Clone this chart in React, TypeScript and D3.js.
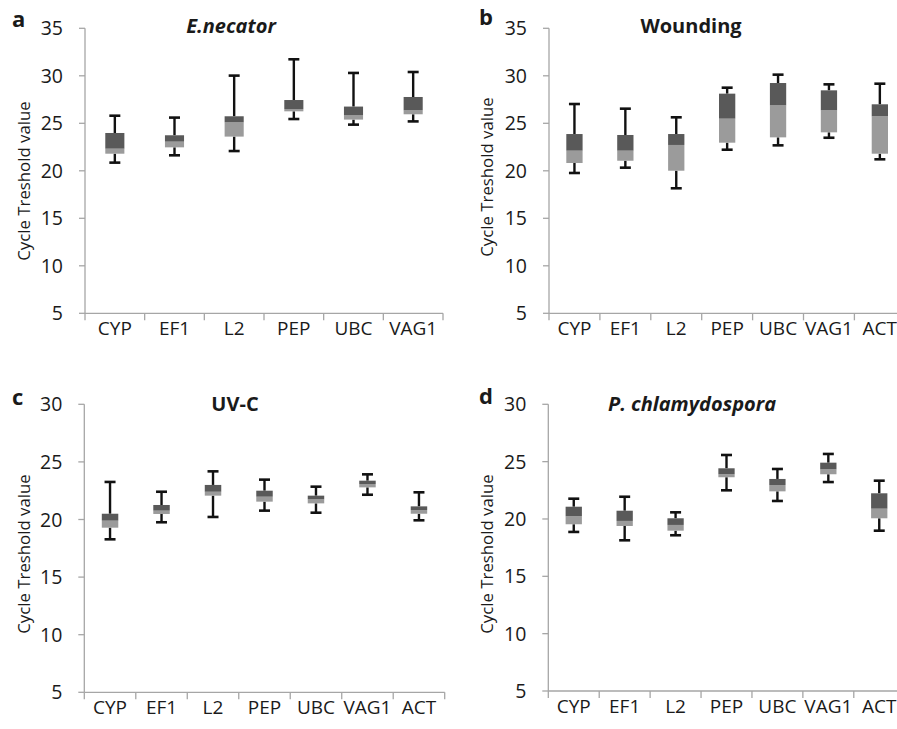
import React from 'react';
import * as d3 from 'd3';

// ---------- data ----------
const genes6 = ['CYP', 'EF1', 'L2', 'PEP', 'UBC', 'VAG1'];
const genes7 = ['CYP', 'EF1', 'L2', 'PEP', 'UBC', 'VAG1', 'ACT'];

const titleA = 'E.necator';
const minA = [20.86, 21.63, 22.08, 25.45, 24.86, 25.2];
const q1A = [21.8, 22.47, 23.6, 26.26, 25.39, 25.95];
const medA = [22.33, 23.07, 25.1, 26.5, 25.84, 26.37];
const q3A = [23.98, 23.74, 25.74, 27.45, 26.76, 27.77];
const maxA = [25.8, 25.6, 30.02, 31.74, 30.3, 30.4];

const titleB = 'Wounding';
const minB = [19.77, 20.33, 18.16, 22.22, 22.68, 23.48, 21.21];
const q1B = [20.82, 21.06, 20.01, 22.96, 23.52, 24.05, 21.8];
const medB = [22.12, 22.12, 22.72, 25.49, 26.89, 26.37, 25.74];
const q3B = [23.87, 23.77, 23.87, 28.12, 29.24, 28.47, 27.0];
const maxB = [27.03, 26.54, 25.63, 28.75, 30.12, 29.1, 29.17];

const titleC = 'UV-C';
const minC = [18.28, 19.76, 20.22, 20.77, 20.59, 22.15, 19.93];
const q1C = [19.29, 20.48, 22.07, 21.55, 21.4, 22.79, 20.5];
const medC = [19.9, 20.77, 22.41, 21.98, 21.75, 23.08, 20.82];
const q3C = [20.5, 21.26, 23.0, 22.5, 22.07, 23.37, 21.14];
const maxC = [23.26, 22.41, 24.18, 23.46, 22.85, 23.92, 22.36];

const titleD = 'P. chlamydospora';
const minD = [18.87, 18.14, 18.58, 22.5, 21.57, 23.22, 18.98];
const q1D = [19.54, 19.39, 18.98, 23.64, 22.41, 23.9, 20.06];
const medD = [20.24, 19.83, 19.48, 23.9, 22.96, 24.33, 20.9];
const q3D = [21.07, 20.72, 20.06, 24.42, 23.49, 24.91, 22.24];
const maxD = [21.77, 21.94, 20.58, 25.58, 24.36, 25.67, 23.34];

const ticks35 = [5, 10, 15, 20, 25, 30, 35];
const ticks30 = [5, 10, 15, 20, 25, 30];
const yLabel = 'Cycle Treshold value';

// ---------- styles ----------
const FONT = "'Open Sans', 'DejaVu Sans', sans-serif";
const DARK = '#595959';
const LIGHT = '#9b9b9b';
const AXIS = '#a6a6a6';
const TEXT = '#1a1a1a';

type PanelProps = {
  letter: string;
  title: string;
  italic: boolean;
  genes: string[];
  mins: number[];
  q1s: number[];
  meds: number[];
  q3s: number[];
  maxs: number[];
  ticks: number[];
  left: number;
  right: number;
  top: number;
  bottom: number;
  titleX: number;
  titleY: number;
  letterX: number;
  letterY: number;
  yLabelX: number;
  yLabelY: number;
};

function Panel(p: PanelProps) {
  const y = d3
    .scaleLinear()
    .domain([d3.min(p.ticks) as number, d3.max(p.ticks) as number])
    .range([p.bottom, p.top]);
  const x = d3.scaleBand<string>().domain(p.genes).range([p.left, p.right]).padding(0);
  const step = x.step();
  const bw = step * 0.32;
  const cap = 11;
  const boundaries = p.genes.map((g) => x(g) as number).concat([p.right]);

  return (
    <g>
      {/* y axis */}
      <line x1={p.left} x2={p.left} y1={p.top} y2={p.bottom} stroke={AXIS} strokeWidth={1.3} />
      {p.ticks.map((t) => (
        <g key={'yt' + t}>
          <line x1={p.left - 6} x2={p.left} y1={y(t)} y2={y(t)} stroke={AXIS} strokeWidth={1.3} />
          <text
            x={p.left - 22}
            y={y(t)}
            dy="0.36em"
            textAnchor="end"
            fontSize={19.5}
            fontFamily={FONT}
            fill={TEXT}
          >
            {t}
          </text>
        </g>
      ))}
      {/* x axis */}
      <line x1={p.left} x2={p.right} y1={p.bottom} y2={p.bottom} stroke={AXIS} strokeWidth={1.3} />
      {boundaries.map((bx, i) => (
        <line key={'xt' + i} x1={bx} x2={bx} y1={p.bottom} y2={p.bottom + 7} stroke={AXIS} strokeWidth={1.3} />
      ))}
      {p.genes.map((g) => (
        <text
          key={'xl' + g}
          x={(x(g) as number) + step / 2}
          y={p.bottom + 22}
          textAnchor="middle"
          fontSize={19}
          fontFamily={FONT}
          fill={TEXT}
        >
          {g}
        </text>
      ))}
      {/* boxes */}
      {p.genes.map((g, i) => {
        const cx = (x(g) as number) + step / 2;
        return (
          <g key={'b' + g}>
            <line x1={cx} x2={cx} y1={y(p.q3s[i])} y2={y(p.maxs[i])} stroke="#111" strokeWidth={2.4} />
            <line x1={cx - cap / 2} x2={cx + cap / 2} y1={y(p.maxs[i])} y2={y(p.maxs[i])} stroke="#111" strokeWidth={2.6} />
            <line x1={cx} x2={cx} y1={y(p.q1s[i])} y2={y(p.mins[i])} stroke="#111" strokeWidth={2.4} />
            <line x1={cx - cap / 2} x2={cx + cap / 2} y1={y(p.mins[i])} y2={y(p.mins[i])} stroke="#111" strokeWidth={2.6} />
            <rect
              x={cx - bw / 2}
              width={bw}
              y={y(p.meds[i])}
              height={y(p.q1s[i]) - y(p.meds[i])}
              fill={LIGHT}
            />
            <rect
              x={cx - bw / 2}
              width={bw}
              y={y(p.q3s[i])}
              height={y(p.meds[i]) - y(p.q3s[i])}
              fill={DARK}
            />
          </g>
        );
      })}
      {/* texts */}
      <text
        x={p.titleX}
        y={p.titleY}
        textAnchor="middle"
        fontSize={20}
        fontWeight="bold"
        fontStyle={p.italic ? 'italic' : 'normal'}
        fontFamily={FONT}
        fill={TEXT}
      >
        {p.title}
      </text>
      <text x={p.letterX} y={p.letterY} fontSize={22} fontWeight="bold" fontFamily={FONT} fill={TEXT}>
        {p.letter}
      </text>
      <text
        transform={`translate(${p.yLabelX},${p.yLabelY}) rotate(-90)`}
        textAnchor="middle"
        dy="0.35em"
        fontSize={16.8}
        fontFamily={FONT}
        fill={TEXT}
      >
        {yLabel}
      </text>
    </g>
  );
}

export default function App() {
  return (
    <svg
      width={897}
      height={729}
      style={{ position: 'absolute', left: 0, top: 0, background: '#fff' }}
    >
      <rect width={897} height={729} fill="#fff" />
      <Panel
        letter="a" title={titleA} italic genes={genes6}
        mins={minA} q1s={q1A} meds={medA} q3s={q3A} maxs={maxA}
        ticks={ticks35} left={85} right={443} top={28.3} bottom={313.3}
        titleX={231} titleY={33} letterX={12} letterY={27} yLabelX={24} yLabelY={181}
      />
      <Panel
        letter="b" title={titleB} italic={false} genes={genes7}
        mins={minB} q1s={q1B} meds={medB} q3s={q3B} maxs={maxB}
        ticks={ticks35} left={549} right={905.3} top={28.3} bottom={313.3}
        titleX={691} titleY={33} letterX={479} letterY={25} yLabelX={487} yLabelY={177}
      />
      <Panel
        letter="c" title={titleC} italic={false} genes={genes7}
        mins={minC} q1s={q1C} meds={medC} q3s={q3C} maxs={maxC}
        ticks={ticks30} left={84.3} right={444.7} top={404.3} bottom={692.3}
        titleX={235} titleY={411} letterX={12} letterY={405} yLabelX={24} yLabelY={554}
      />
      <Panel
        letter="d" title={titleD} italic genes={genes7}
        mins={minD} q1s={q1D} meds={medD} q3s={q3D} maxs={maxD}
        ticks={ticks30} left={548.3} right={904.7} top={404.3} bottom={691}
        titleX={692} titleY={411} letterX={479} letterY={404} yLabelX={487} yLabelY={554}
      />
    </svg>
  );
}
